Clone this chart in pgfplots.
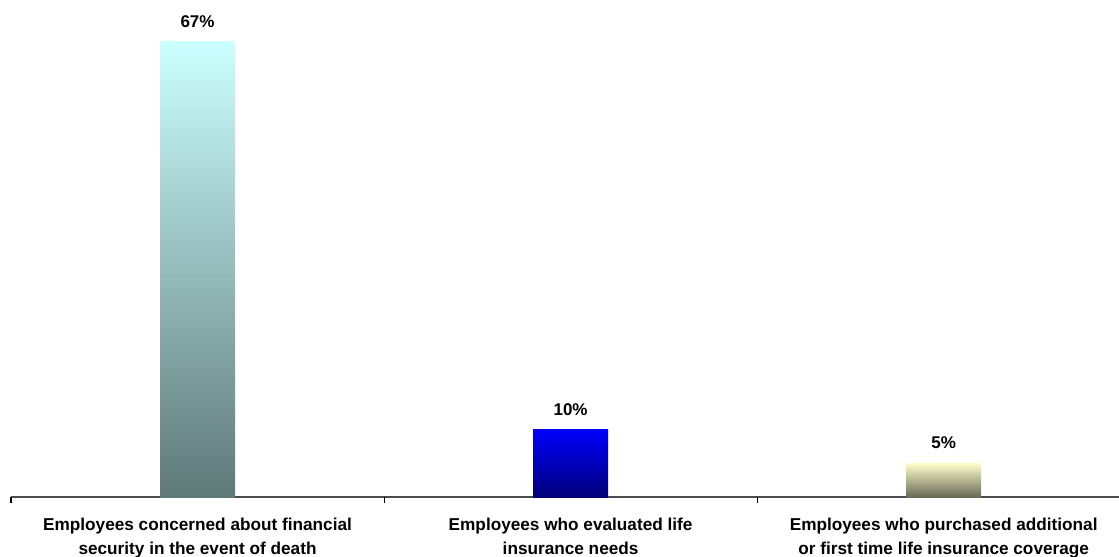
\documentclass[border=0pt]{standalone}
\usepackage{pgfplots}
\pgfplotsset{compat=1.18}
\usepackage{fontspec}
\setmainfont{Liberation Sans}
\definecolor{topA}{RGB}{204,255,255}
\definecolor{botA}{RGB}{95,120,120}
\definecolor{topB}{RGB}{0,0,255}
\definecolor{botB}{RGB}{0,0,120}
\definecolor{topC}{RGB}{255,255,204}
\definecolor{botC}{RGB}{105,105,85}
\begin{document}
\begin{tikzpicture}
\useasboundingbox (-8.25pt,-44.25pt) rectangle (831pt,372.75pt);
\begin{axis}[
  scale only axis,
  width=831pt, height=357pt,
  xmin=-0.5, xmax=2.47,
  ymin=0, ymax=70,
  axis x line*=bottom,
  axis y line=none,
  x axis line style={draw=black!70, line width=1.3pt},
  ybar, bar width=56.25pt, bar shift=0pt,
  xtick={0,1,2},
  major tick length=0pt,
  xticklabels={{Employees concerned about financial\\security in the event of death},
               {Employees who evaluated life\\insurance needs},
               {Employees who purchased additional\\or first time life insurance coverage}},
  xticklabel style={align=center, font=\fontsize{12.9}{18.5}\selectfont\bfseries, anchor=north, yshift=-12pt},
  extra x ticks={-0.5,0.5,1.5},
  extra x tick labels={},
  extra x tick style={major tick length=4.5pt, tick align=outside, tick style={draw=black, line width=0.8pt}},
  point meta=explicit symbolic,
  nodes near coords,
  every node near coord/.append style={anchor=base, yshift=10.5pt, font=\fontsize{12.75}{15}\selectfont\bfseries, text=black},
  clip=false,
]
\addplot[draw=none, top color=topA, bottom color=botA] coordinates {(0,67) [67\%]};
\addplot[draw=none, top color=topB, bottom color=botB] coordinates {(1,10) [10\%]};
\addplot[draw=none, top color=topC, bottom color=botC] coordinates {(2,5) [5\%]};
\end{axis}
\end{tikzpicture}
\end{document}
